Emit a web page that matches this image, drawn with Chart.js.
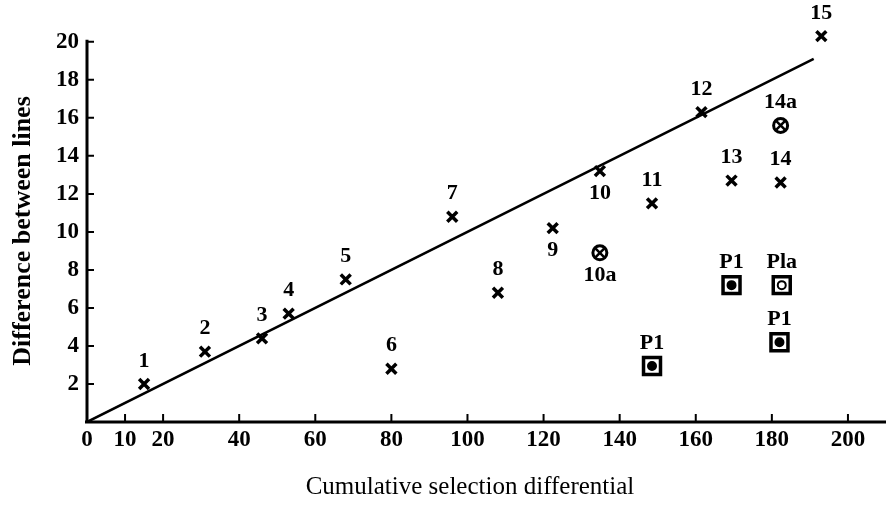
<!DOCTYPE html>
<html>
<head>
<meta charset="utf-8">
<script src="https://cdn.jsdelivr.net/npm/chart.js@4"></script>
<style>
  html, body { margin: 0; padding: 0; background: #fff; }
  #wrap { width: 886px; height: 510px; }
</style>
</head>
<body>
<div id="wrap"><canvas id="grafico" width="886" height="510"></canvas></div>
<script>
// lines 1-15 (x marks)
const lineasX = [15, 31, 46, 53, 68, 80, 96, 108, 122.4, 134.8, 148.5, 161.5, 169.4, 182.3, 193];
const lineasY = [2.0, 3.7, 4.4, 5.7, 7.5, 2.8, 10.8, 6.8, 10.2, 13.2, 11.5, 16.3, 12.7, 12.6, 20.3];
const lineasEtiq = ['1', '2', '3', '4', '5', '6', '7', '8', '9', '10', '11', '12', '13', '14', '15'];

// circled x
const circX = [134.8, 182.3];
const circY = [8.9, 15.6];
const circEtiq = ['10a', '14a'];

// boxed points (P1)
const cajaX = [148.5, 169.4, 182.6, 182];
const cajaY = [2.95, 7.2, 7.2, 4.2];
const cajaEtiq = ['P1', 'P1', 'Pla', 'P1'];
const cajaHueco = [false, false, true, false];

// fitted line
const rectaX = [0, 191];
const rectaY = [0, 19.1];

const ticksX = [0, 10, 20, 40, 60, 80, 100, 120, 140, 160, 180, 200];
const ticksY = [2, 4, 6, 8, 10, 12, 14, 16, 18, 20];

const tituloX = 'Cumulative selection differential';
const tituloY = 'Difference between lines';

const etiqDebajo = ['9', '10', '10a'];

const pares = (xs, ys) => xs.map((x, i) => ({ x: x, y: ys[i] }));
const serif = '"Liberation Serif", "DejaVu Serif", serif';

const ejes = {
  id: 'ejes',
  beforeDatasetsDraw(chart) {
    const { ctx, scales: { x, y } } = chart;
    const x0 = x.getPixelForValue(0), y0 = y.getPixelForValue(0);
    ctx.save();
    ctx.strokeStyle = '#000';
    ctx.lineWidth = 3;
    ctx.beginPath();
    ctx.moveTo(x0 - 2, y0); ctx.lineTo(x.right, y0);
    ctx.moveTo(x0, y0); ctx.lineTo(x0, y.getPixelForValue(20) - 2);
    ctx.stroke();
    ctx.lineWidth = 2;
    ctx.beginPath();
    ticksX.forEach(v => {
      if (v === 0) return;
      const px = x.getPixelForValue(v);
      ctx.moveTo(px, y0); ctx.lineTo(px, y0 - 8);
    });
    ticksY.forEach(v => {
      const py = y.getPixelForValue(v);
      ctx.moveTo(x0, py); ctx.lineTo(x0 + 7, py);
    });
    ctx.stroke();
    ctx.restore();
  },
  afterDraw(chart) {
    // axis titles sit a bit off-centre in the original, so they are placed by hand
    const { ctx } = chart;
    ctx.save();
    ctx.fillStyle = '#000';
    ctx.textAlign = 'center';
    ctx.textBaseline = 'middle';
    ctx.font = '25px ' + serif;
    ctx.fillText(tituloX, 470, 487);
    ctx.translate(23, 231);
    ctx.rotate(-Math.PI / 2);
    ctx.font = 'bold 26px ' + serif;
    ctx.fillText(tituloY, 0, 0);
    ctx.restore();
  }
};

const etiquetas = {
  id: 'etiquetas',
  afterDatasetsDraw(chart) {
    const { ctx } = chart;
    ctx.save();
    ctx.fillStyle = '#000';
    ctx.font = 'bold 22px ' + serif;
    ctx.textAlign = 'center';
    ctx.textBaseline = 'middle';
    chart.data.datasets.forEach((ds, i) => {
      if (!ds.etiquetas) return;
      const meta = chart.getDatasetMeta(i);
      meta.data.forEach((p, j) => {
        const t = ds.etiquetas[j];
        const abajo = etiqDebajo.includes(t);
        ctx.fillText(t, p.x, abajo ? p.y + 22 : p.y - 23);
      });
    });
    ctx.restore();
  }
};

new Chart(document.getElementById('grafico'), {
  type: 'scatter',
  data: {
    datasets: [
      {
        type: 'line',
        data: pares(rectaX, rectaY),
        borderColor: '#000',
        borderWidth: 2.5,
        pointRadius: 0,
        fill: false
      },
      {
        data: pares(lineasX, lineasY),
        etiquetas: lineasEtiq,
        pointStyle: 'crossRot',
        pointRadius: 7,
        borderWidth: 3.5,
        borderColor: '#000'
      },
      {
        data: pares(circX, circY),
        etiquetas: circEtiq,
        pointStyle: 'circle',
        pointRadius: 7,
        borderWidth: 3,
        borderColor: '#000',
        backgroundColor: 'rgba(0,0,0,0)'
      },
      {
        data: pares(circX, circY),
        pointStyle: 'crossRot',
        pointRadius: 6,
        borderWidth: 2.5,
        borderColor: '#000'
      },
      {
        // dot inside the box (drawn on top of the box)
        data: pares(cajaX, cajaY),
        pointStyle: 'circle',
        pointRadius: 4,
        borderWidth: 2,
        borderColor: '#000',
        backgroundColor: cajaHueco.map(h => h ? '#fff' : '#000')
      },
      {
        data: pares(cajaX, cajaY),
        etiquetas: cajaEtiq,
        pointStyle: 'rect',
        pointRadius: 12,
        borderWidth: 3.5,
        borderColor: '#000',
        backgroundColor: '#fff'
      }
    ]
  },
  options: {
    responsive: false,
    animation: false,
    devicePixelRatio: 1,
    layout: { padding: 0, autoPadding: false },
    plugins: { legend: { display: false }, tooltip: { enabled: false } },
    scales: {
      x: {
        type: 'linear',
        min: 0,
        max: 210,
        afterBuildTicks: s => { s.ticks = ticksX.map(v => ({ value: v })); },
        afterFit: s => { s.height = 88; s.paddingLeft = 0; s.paddingRight = 0; },
        grid: { display: false, drawTicks: false },
        border: { display: false },
        ticks: {
          color: '#000',
          font: { family: serif, size: 23, weight: 'bold' },
          padding: 4,
          maxRotation: 0,
          autoSkip: false
        }
      },
      y: {
        type: 'linear',
        min: 0,
        max: 22.2,
        afterBuildTicks: s => { s.ticks = ticksY.map(v => ({ value: v })); },
        afterFit: s => { s.width = 87; s.paddingTop = 0; s.paddingBottom = 0; },
        grid: { display: false, drawTicks: false },
        border: { display: false },
        ticks: {
          color: '#000',
          font: { family: serif, size: 23, weight: 'bold' },
          padding: 8
        }
      }
    }
  },
  plugins: [ejes, etiquetas]
});
</script>
</body>
</html>
